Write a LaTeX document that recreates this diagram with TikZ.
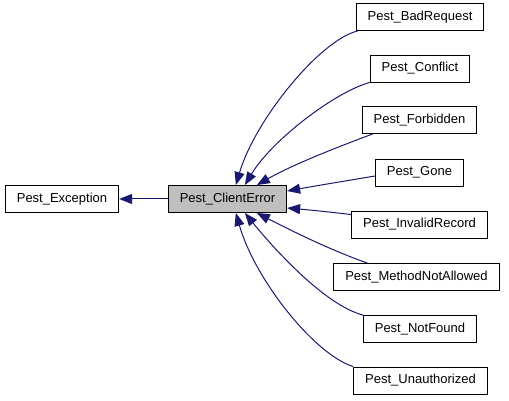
\documentclass[tikz,border=0pt]{standalone}
\usepackage{fontspec}
\setmainfont{Liberation Sans}
\usepackage{tikz}
\usetikzlibrary{arrows.meta}
\definecolor{edgeblue}{RGB}{25,25,112}
\definecolor{basegray}{RGB}{191,191,191}

\begin{document}
\begin{tikzpicture}[x=1pt, y=-1pt]
            \tikzset{cls/.style = {draw=black, line width=0.9pt, fill=white, minimum height=27pt, inner xsep=11.5pt, font=\fontsize{13}{15}\selectfont}}
            \tikzset{edge/.style = {edgeblue, line width=1pt, -{Triangle[length=13pt, width=10pt]}}}
            \useasboundingbox (0, 0) rectangle (509, 401);
            % base classes
            \node[cls] (exception) at (62, 199) {Pest\_Exception};
            \node[cls, fill=basegray] (client) at (227.5, 199) {Pest\_ClientError};
            % derived classes
            \node[cls] (bad) at (420, 17) {Pest\_BadRequest};
            \node[cls] (conflict) at (420, 68.5) {Pest\_Conflict};
            \node[cls] (forbidden) at (419.5, 120) {Pest\_Forbidden};
            \node[cls] (gone) at (419.5, 172.5) {Pest\_Gone};
            \node[cls] (invalid) at (419.5, 224.5) {Pest\_InvalidRecord};
            \node[cls] (notallowed) at (416.5, 277) {Pest\_MethodNotAllowed};
            \node[cls] (notfound) at (420, 329) {Pest\_NotFound};
            \node[cls] (unauth) at (420.5, 380.5) {Pest\_Unauthorized};
            % inheritance
            \draw[edge] (client) -- (exception);
            \draw[edge] ([xshift=2]bad.south west) .. controls (320, 40) and (255, 120) .. ([xshift=68]client.north west);
            \draw[edge] (conflict.south west) .. controls (335, 92) and (272, 140) .. ([xshift=77]client.north west);
            \draw[edge] ([xshift=11]forbidden.south west) .. controls (335, 148) and (292, 165) .. ([xshift=89]client.north west);
            \draw[edge] ([yshift=-3.5]gone.west) .. controls (345, 181) and (315, 186) .. ([yshift=8]client.east);
            \draw[edge] ([yshift=-4]invalid.north west) .. controls (330, 212) and (310, 210) .. ([yshift=-9]client.east);
            \draw[edge] ([xshift=34]notallowed.north west) .. controls (330, 250) and (290, 230) .. ([xshift=89]client.south west);
            \draw[edge] (notfound.north west) .. controls (325, 305) and (275, 250) .. ([xshift=77]client.south west);
            \draw[edge] (unauth.north west) .. controls (315, 355) and (255, 280) .. ([xshift=68]client.south west);
\end{tikzpicture}
\end{document}
